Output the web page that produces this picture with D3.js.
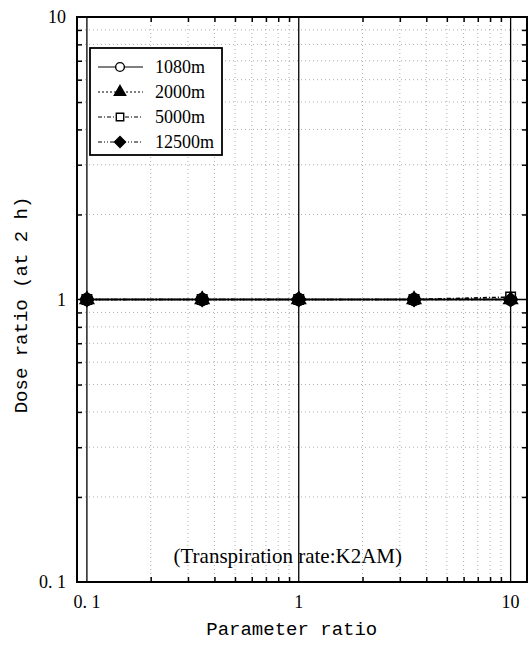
<!DOCTYPE html>
<html>
<head>
<meta charset="utf-8">
<script src="https://cdn.jsdelivr.net/npm/d3@7"></script>
<style>
  body { margin: 0; background: #fff; }
  .tick-label { font-family: "Liberation Serif", "DejaVu Serif", serif; font-size: 18px; fill: #000; }
  .axis-title { font-family: "Liberation Mono", "DejaVu Sans Mono", monospace; font-size: 19px; fill: #000; }
  .legend-text { font-family: "Liberation Serif", "DejaVu Serif", serif; font-size: 18px; fill: #000; }
</style>
</head>
<body>
<div class="chart"></div>
<script>
var svgWidth = 531;
var svgHeight = 648;

var margin = { top: 17, right: 4, bottom: 66, left: 77 };
var width = svgWidth - margin.left - margin.right;
var height = svgHeight - margin.top - margin.bottom;

// data
var paramRatio = [0.1, 0.35, 1, 3.5, 10];
var seriesNames = ["1080m", "2000m", "5000m", "12500m"];
var dose1080 = [1, 1, 1, 1, 1];
var dose2000 = [1, 1, 1, 1, 1];
var dose5000 = [1, 1, 1, 1, 1.02];
var dose12500 = [1, 1, 1, 1, 1];
var xTickLabels = ["0. 1", "1", "10"];
var yTickLabels = ["0. 1", "1", "10"];
var majorValues = [0.1, 1, 10];

var seriesValues = [dose1080, dose2000, dose5000, dose12500];
// diamond = square turned 45 degrees
var markers = [
  { type: d3.symbolCircle, fill: "#fff", size: 110, rot: 0, lsize: 60 },
  { type: d3.symbolTriangle, fill: "#000", size: 80, rot: 0, lsize: 55 },
  { type: d3.symbolSquare, fill: "#fff", size: 90, rot: 0, lsize: 55 },
  { type: d3.symbolSquare, fill: "#000", size: 95, rot: 45, lsize: 60 }
];
var dashes = [null, "2,2", "4,2,1,2", "4,2,1,2,1,2"];

var svg = d3.select(".chart")
  .append("svg")
  .attr("width", svgWidth)
  .attr("height", svgHeight);

var chartGroup = svg.append("g")
  .attr("transform", `translate(${margin.left}, ${margin.top})`);

var xScale = d3.scaleLog()
  .domain([0.0898, 11.95])
  .range([0, width]);

var yScale = d3.scaleLog()
  .domain([0.1, 10])
  .range([height, 0]);

// minor positions 2..9 per decade
var minorX = [];
[0.1, 1, 10].forEach(function(b) {
  for (var k = 1; k <= 9; k++) {
    var v = b * k;
    if (v >= xScale.domain()[0] && v <= xScale.domain()[1] && majorValues.indexOf(v) < 0) minorX.push(v);
  }
});
var minorY = [];
[0.1, 1].forEach(function(b) {
  for (var k = 2; k <= 9; k++) minorY.push(b * k);
});

// dotted grid
chartGroup.selectAll(".gx")
  .data(minorX)
  .enter()
  .append("line")
  .attr("x1", d => xScale(d)).attr("x2", d => xScale(d))
  .attr("y1", 0).attr("y2", height)
  .attr("stroke", "#999").attr("stroke-width", 0.8)
  .attr("stroke-dasharray", "1,3");

chartGroup.selectAll(".gy")
  .data(minorY)
  .enter()
  .append("line")
  .attr("y1", d => yScale(d)).attr("y2", d => yScale(d))
  .attr("x1", 0).attr("x2", width)
  .attr("stroke", "#999").attr("stroke-width", 0.8)
  .attr("stroke-dasharray", "1,3");

// major solid lines
chartGroup.selectAll(".mx")
  .data(majorValues)
  .enter()
  .append("line")
  .attr("x1", d => xScale(d)).attr("x2", d => xScale(d))
  .attr("y1", 0).attr("y2", height)
  .attr("stroke", "#000").attr("stroke-width", 1.3);

chartGroup.append("line")
  .attr("x1", 0).attr("x2", width)
  .attr("y1", yScale(1)).attr("y2", yScale(1))
  .attr("stroke", "#000").attr("stroke-width", 1.3);

// inward ticks on all four sides
var tickLen = 5;
var bottomAxis = d3.axisBottom(xScale).tickValues(minorX).tickSize(-tickLen).tickFormat("");
var topAxis = d3.axisTop(xScale).tickValues(minorX).tickSize(-tickLen).tickFormat("");
var leftAxis = d3.axisLeft(yScale).tickValues(minorY).tickSize(-tickLen).tickFormat("");
var rightAxis = d3.axisRight(yScale).tickValues(minorY).tickSize(-tickLen).tickFormat("");

chartGroup.append("g").attr("transform", `translate(0, ${height})`).call(bottomAxis);
chartGroup.append("g").call(topAxis);
chartGroup.append("g").call(leftAxis);
chartGroup.append("g").attr("transform", `translate(${width}, 0)`).call(rightAxis);
chartGroup.selectAll(".domain").remove();
chartGroup.selectAll(".tick line").attr("stroke", "#000").attr("stroke-width", 1.5);

// frame
chartGroup.append("rect")
  .attr("x", 0).attr("y", 0)
  .attr("width", width).attr("height", height)
  .attr("fill", "none").attr("stroke", "#000").attr("stroke-width", 2);

// tick labels
chartGroup.selectAll(".xl")
  .data(majorValues)
  .enter()
  .append("text")
  .attr("class", "tick-label")
  .attr("x", d => xScale(d))
  .attr("y", height + 26)
  .attr("text-anchor", "middle")
  .text((d, i) => xTickLabels[i]);

chartGroup.selectAll(".yl")
  .data(majorValues)
  .enter()
  .append("text")
  .attr("class", "tick-label")
  .attr("x", -11)
  .attr("y", d => yScale(d) + 6)
  .attr("text-anchor", "end")
  .text((d, i) => yTickLabels[i]);

// series
var line = d3.line()
  .x(d => xScale(d[0]))
  .y(d => yScale(d[1]));

seriesValues.forEach(function(vals, i) {
  var pts = paramRatio.map((x, j) => [x, vals[j]]);
  chartGroup.append("path")
    .datum(pts)
    .attr("d", line)
    .attr("fill", "none")
    .attr("stroke", "#000")
    .attr("stroke-width", 1.6)
    .attr("stroke-dasharray", dashes[i]);
});

seriesValues.forEach(function(vals, i) {
  var m = markers[i];
  var sym = d3.symbol().type(m.type).size(m.size);
  chartGroup.selectAll(".pt" + i)
    .data(paramRatio.map((x, j) => [x, vals[j]]))
    .enter()
    .append("path")
    .attr("d", sym)
    .attr("transform", d => `translate(${xScale(d[0])}, ${yScale(d[1])}) rotate(${m.rot})`)
    .attr("fill", m.fill)
    .attr("stroke", "#000")
    .attr("stroke-width", 1.5);
});

// annotation
chartGroup.append("text")
  .attr("class", "legend-text")
  .attr("x", xScale(1) - 11)
  .attr("y", height - 19)
  .attr("text-anchor", "middle")
  .style("font-size", "21px")
  .text("(Transpiration rate:K2AM)");

// legend
var legend = chartGroup.append("g").attr("transform", "translate(13, 31)");
legend.append("rect")
  .attr("width", 132).attr("height", 107)
  .attr("fill", "#fff").attr("stroke", "#000").attr("stroke-width", 1.8);

seriesNames.forEach(function(name, i) {
  var yy = 19 + i * 25;
  var m = markers[i];
  legend.append("line")
    .attr("x1", 8).attr("x2", 53)
    .attr("y1", yy).attr("y2", yy)
    .attr("stroke", "#000").attr("stroke-width", 1.2)
    .attr("stroke-dasharray", dashes[i]);
  legend.append("path")
    .attr("d", d3.symbol().type(m.type).size(m.lsize)())
    .attr("transform", `translate(30, ${yy}) rotate(${m.rot})`)
    .attr("fill", m.fill)
    .attr("stroke", "#000").attr("stroke-width", 1.4);
  legend.append("text")
    .attr("class", "legend-text")
    .attr("x", 65).attr("y", yy + 6)
    .text(name);
});

// axis titles
svg.append("text")
  .attr("class", "axis-title")
  .attr("text-anchor", "middle")
  .attr("transform", `translate(${margin.left + xScale(1) - 7}, 635)`)
  .text("Parameter ratio");

svg.append("text")
  .attr("class", "axis-title")
  .attr("text-anchor", "middle")
  .attr("transform", `translate(27, 305) rotate(-90)`)
  .text("Dose ratio (at 2 h)");
</script>
</body>
</html>
